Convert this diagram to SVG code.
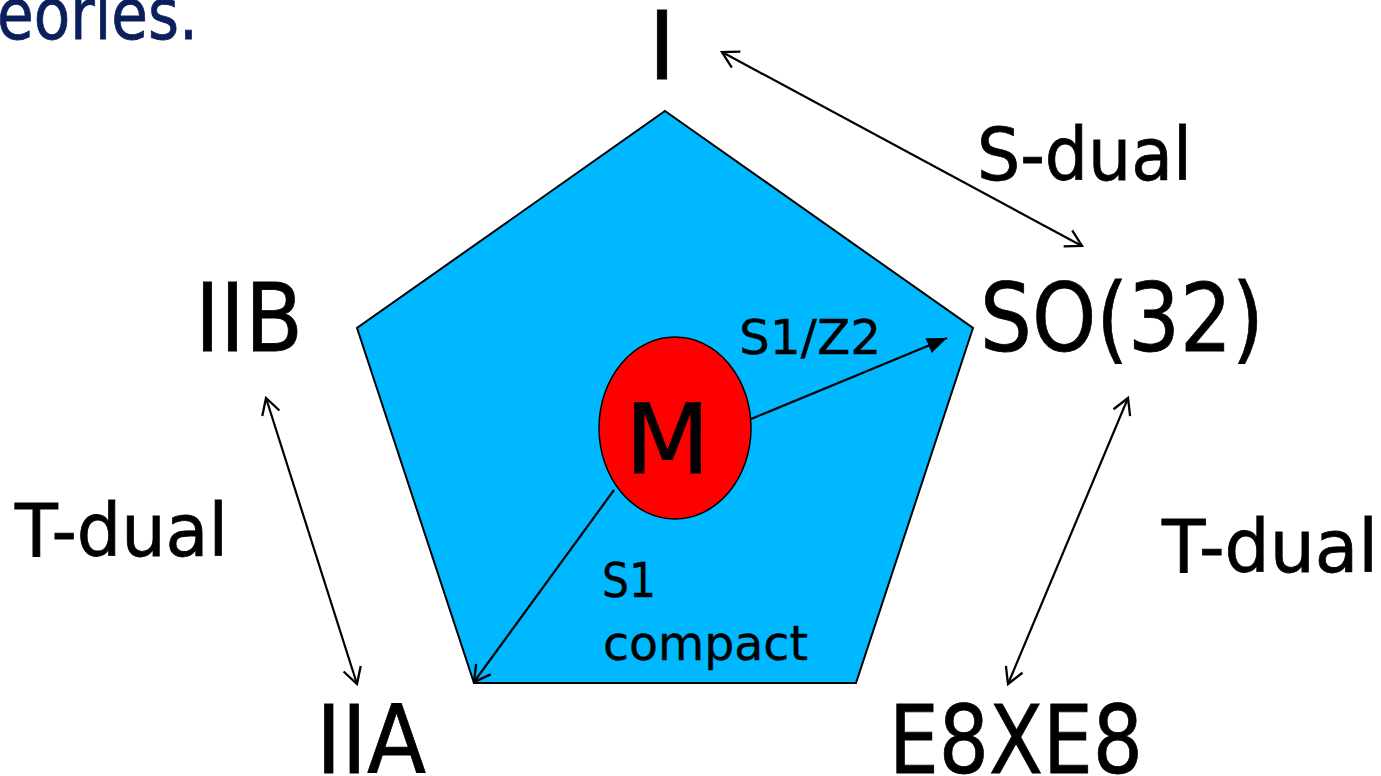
<svg xmlns="http://www.w3.org/2000/svg" width="1381" height="776" viewBox="0 0 1381 776">
<style>
.t{font-family:"DejaVu Sans","Liberation Sans",sans-serif;fill:#000;stroke:#000;stroke-width:0.8}
.big{font-size:95px}
.mid{font-size:73px}
.sm{font-size:48px;stroke-width:0.4}
.c{stroke:#000;stroke-width:2.2;fill:none}
</style>
<defs>
<marker id="open" markerUnits="userSpaceOnUse" markerWidth="20" markerHeight="22" viewBox="-1 -2 20 22" refX="17" refY="9" orient="auto-start-reverse">
<path d="M1,0 L17,9 L1,18" fill="none" stroke="#000" stroke-width="2.3"/>
</marker>
<marker id="fill" markerUnits="userSpaceOnUse" markerWidth="20" markerHeight="16" viewBox="0 0 20 16" refX="20" refY="8" orient="auto">
<path d="M0,0 L20,8 L0,16 z" fill="#000"/>
</marker>
</defs>
<rect width="1381" height="776" fill="#fff"/>
<text x="-3" y="39" font-family="DejaVu Sans, Liberation Sans, sans-serif" font-size="71" fill="#0a1f5c" stroke="#0a1f5c" stroke-width="0.8" textLength="201" lengthAdjust="spacingAndGlyphs">eories.</text>

<g id="pentagon">
<polygon points="665,111 973,328 856,683 474,683 357,328" fill="#00b8ff" stroke="#000" stroke-width="2"/>
</g>

<g id="connectors">
<line class="c" x1="722" y1="52" x2="1082" y2="246" marker-start="url(#open)" marker-end="url(#open)"/>
<line class="c" x1="266" y1="398" x2="357" y2="684" marker-start="url(#open)" marker-end="url(#open)"/>
<line class="c" x1="1128" y1="398" x2="1008" y2="684" marker-start="url(#open)" marker-end="url(#open)"/>
<line class="c" x1="751" y1="419" x2="947" y2="338" marker-end="url(#fill)"/>
<line class="c" x1="614" y1="490" x2="474" y2="682" marker-end="url(#open)"/>
</g>

<g id="node-M">
<ellipse cx="675" cy="428" rx="76" ry="91" fill="#ff0000" stroke="#000" stroke-width="1.5"/>
<text class="t" x="625" y="473" font-size="97" textLength="85" lengthAdjust="spacingAndGlyphs">M</text>
</g>
<g id="node-I"><text class="t big" x="648" y="79">I</text></g>
<g id="node-IIB"><text class="t big" x="195" y="351" textLength="108" lengthAdjust="spacingAndGlyphs">IIB</text></g>
<g id="node-SO32"><text class="t big" x="980" y="351" textLength="284" lengthAdjust="spacingAndGlyphs">SO(32)</text></g>
<g id="node-IIA"><text class="t big" x="316" y="773" textLength="110" lengthAdjust="spacingAndGlyphs">IIA</text></g>
<g id="node-E8XE8"><text class="t big" x="889" y="773" textLength="254" lengthAdjust="spacingAndGlyphs">E8XE8</text></g>

<g id="labels">
<text class="t mid" x="977" y="180" textLength="215" lengthAdjust="spacingAndGlyphs">S-dual</text>
<text class="t mid" x="15" y="556" textLength="213" lengthAdjust="spacingAndGlyphs">T-dual</text>
<text class="t mid" x="1162" y="572" textLength="216" lengthAdjust="spacingAndGlyphs">T-dual</text>
<text class="t sm" x="739" y="354" textLength="142" lengthAdjust="spacingAndGlyphs">S1/Z2</text>
<text class="t sm" x="602" y="597" textLength="54" lengthAdjust="spacingAndGlyphs">S1</text>
<text class="t sm" x="603" y="660" textLength="205" lengthAdjust="spacingAndGlyphs">compact</text>
</g>
</svg>
